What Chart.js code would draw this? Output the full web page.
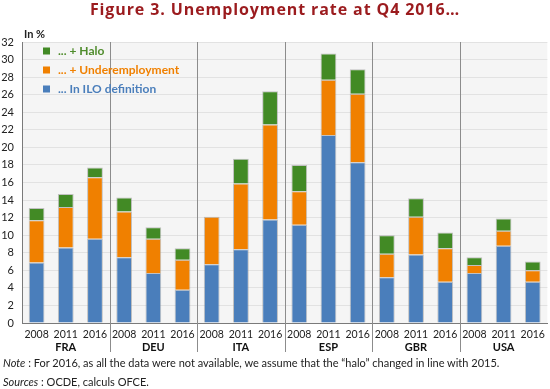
<!DOCTYPE html>
<html>
<head>
<meta charset="utf-8">
<script src="https://cdn.jsdelivr.net/npm/chart.js@4.4.0/dist/chart.umd.min.js"></script>
<style>
body { margin: 0; background: #fff; font-family: Lato, sans-serif; }
#wrap { position: relative; width: 550px; height: 389px; overflow: hidden; }
#c { position: absolute; left: 0; top: 0; }
#title { position: absolute; top: -2px; left: 0; width: 550px; text-align: center; color: #9b1b1e; font-family: 'Open Sans', sans-serif; font-weight: bold; font-size: 16px; letter-spacing: 0.9px; line-height: 22px; }
#unit { position: absolute; left: 24px; top: 27px; font-size: 11px; font-weight: bold; color: #222; }
.note { position: absolute; left: 3px; font-size: 11px; line-height: 14px; color: #222; white-space: nowrap; }
</style>
</head>
<body>
<div id="wrap">
  <canvas id="c" width="550" height="389"></canvas>
  <div id="title">Figure 3. Unemployment rate at Q4 2016…</div>
  <div id="unit">In %</div>
  <div class="note" style="top:356px"><i>Note</i> : For 2016, as all the data were not available, we assume that the “halo” changed in line with 2015.</div>
  <div class="note" style="top:375px"><i>Sources</i> : OCDE, calculs OFCE.</div>
</div>
<script>
// data
const countries = ['FRA', 'DEU', 'ITA', 'ESP', 'GBR', 'USA'];
const years = ['2008', '2011', '2016'];
const ilo   = [6.9, 8.6, 9.6,  7.5, 5.7, 3.8,  6.7, 8.4, 11.8,  11.2, 21.4, 18.3,  5.2, 7.8, 4.7,  5.7, 8.8, 4.7];
const under = [4.8, 4.6, 7.0,  5.2, 3.9, 3.4,  5.4, 7.5, 10.8,  3.8, 6.3, 7.8,   2.7, 4.3, 3.8,  0.9, 1.7, 1.3];
const halo  = [1.4, 1.5, 1.1,  1.6, 1.3, 1.3,  0,   2.8, 3.8,   3.0, 3.0, 2.8,   2.1, 2.1, 1.8,  0.9, 1.4, 1.0];
const yMin = 0, yMax = 32, yStep = 2;

const labels = countries.flatMap(() => years);

// plot background
const bgPlugin = {
    id: 'bg',
    beforeDraw(chart) {
        const a = chart.chartArea, ctx = chart.ctx;
        ctx.save();
        ctx.fillStyle = '#f5f5f5';
        ctx.fillRect(a.left, a.top, a.right - a.left, a.bottom - a.top);
        ctx.restore();
    }
};

// group separators and the legend inside the plot
const groupPlugin = {
    id: 'groups',
    afterDraw(chart) {
        const a = chart.chartArea, ctx = chart.ctx, x = chart.scales.x;
        const n = years.length;
        ctx.save();
        ctx.strokeStyle = '#8c8c8c';
        ctx.lineWidth = 1;
        for (let g = 1; g < countries.length; g++) {
            const px = Math.round((x.getPixelForValue(g * n - 1) + x.getPixelForValue(g * n)) / 2) + 0.5;
            ctx.beginPath();
            ctx.moveTo(px, a.top);
            ctx.lineTo(px, a.bottom + 29);
            ctx.stroke();
        }

        // legend (top to bottom: last dataset first)
        ctx.font = 'bold 12px Lato';
        ctx.textAlign = 'left';
        ctx.textBaseline = 'middle';
        const ds = chart.data.datasets.slice().reverse();
        ds.forEach((d, i) => {
            const ly = a.top + 9 + i * 19;
            ctx.fillStyle = d.backgroundColor;
            ctx.fillRect(a.left + 21, ly - 3.5, 7, 7);
            ctx.fillStyle = d.legendText;
            ctx.fillText(d.label, a.left + 36, ly);
        });
        ctx.restore();
    }
};

new Chart(document.getElementById('c'), {
    type: 'bar',
    data: {
        labels: labels,
        datasets: [
            { label: '... In ILO definition', data: ilo, backgroundColor: '#4a7ebb', legendText: '#4a7ebb' },
            { label: '... + Underemployment', data: under, backgroundColor: '#f08000', legendText: '#f08000' },
            { label: '... + Halo', data: halo, backgroundColor: '#428a25', legendText: '#4f8c2c' }
        ].map(d => Object.assign(d, {
            borderColor: 'rgba(150,150,150,0.55)',
            borderWidth: 1,
            barPercentage: 0.54,
            categoryPercentage: 1
        }))
    },
    options: {
        responsive: false,
        animation: false,
        layout: { padding: { top: 42, right: 2, bottom: 33, left: 0 } },
        plugins: {
            legend: { display: false },
            tooltip: { enabled: false }
        },
        scales: {
            x: {
                stacked: true,
                grid: { display: false, drawTicks: false },
                border: { color: '#7a7a7a' },
                ticks: { color: '#222', font: { family: 'Lato', size: 10.5 }, padding: 5, maxRotation: 0, autoSkip: false },
                afterFit(s) { s.height = 18; }
            },
            x2: {
                type: 'category',
                labels: countries,
                position: 'bottom',
                grid: { display: false, drawTicks: false },
                border: { display: false },
                ticks: { color: '#111', font: { family: 'Lato', size: 11, weight: 'bold' }, padding: 0, maxRotation: 0 },
                afterFit(s) { s.height = 15; }
            },
            y: {
                stacked: true,
                min: yMin,
                max: yMax,
                grid: { color: '#e2e2e2', drawTicks: false },
                border: { color: '#7a7a7a' },
                ticks: { stepSize: yStep, color: '#222', font: { family: 'Lato', size: 11 }, padding: 8 },
                afterFit(s) { s.width = 22; }
            }
        }
    },
    plugins: [bgPlugin, groupPlugin]
});
</script>
</body>
</html>
